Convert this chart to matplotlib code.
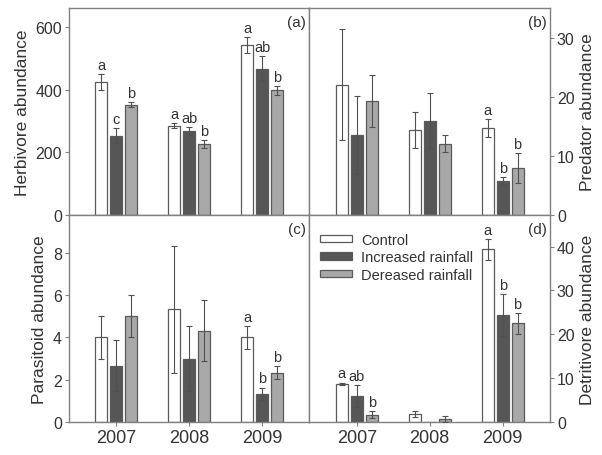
import numpy as np
import matplotlib
matplotlib.use('Agg')
import matplotlib.pyplot as plt
from matplotlib.patches import Patch

plt.rcParams['font.family'] = ['Liberation Sans', 'DejaVu Sans']

years = ['2007', '2008', '2009']
treatments = ['Control', 'Increased rainfall', 'Dereased rainfall']

# herbivore (a)
herb_ctrl = [425, 285, 543]
herb_inc = [253, 267, 466]
herb_dec = [351, 226, 397]
herb_ctrl_se = [25, 9, 25]
herb_inc_se = [23, 12, 40]
herb_dec_se = [8, 12, 15]
herb_letters = [['a', 'c', 'b'], ['a', 'ab', 'b'], ['a', 'ab', 'b']]

# predator (b)
pred_ctrl = [22.1, 14.4, 14.7]
pred_inc = [13.5, 16.0, 5.7]
pred_dec = [19.4, 12.1, 8.0]
pred_ctrl_se = [9.4, 3.1, 1.5]
pred_inc_se = [6.6, 4.7, 0.7]
pred_dec_se = [4.4, 1.5, 2.5]
pred_letters = [['', '', ''], ['', '', ''], ['a', 'b', 'b']]

# parasitoid (c)
para_ctrl = [4.0, 5.33, 4.0]
para_inc = [2.67, 3.0, 1.33]
para_dec = [5.0, 4.33, 2.33]
para_ctrl_se = [1.0, 3.0, 0.55]
para_inc_se = [1.2, 1.53, 0.3]
para_dec_se = [1.0, 1.45, 0.3]
para_letters = [['', '', ''], ['', '', ''], ['a', 'b', 'b']]

# detritivore (d)
detr_ctrl = [8.7, 1.9, 39.4]
detr_inc = [5.9, 0.0, 24.3]
detr_dec = [1.7, 0.6, 22.5]
detr_ctrl_se = [0.3, 0.7, 2.4]
detr_inc_se = [2.5, 0.0, 4.8]
detr_dec_se = [0.8, 0.7, 2.4]
detr_letters = [['a', 'ab', 'b'], ['', '', ''], ['a', 'b', 'b']]

colors = ['white', '#565656', '#a8a8a8']
edge = '#5a5a5a'
spine_c = '#808080'
text_c = '#333333'

fig, axs = plt.subplots(2, 2, figsize=(6.02, 4.56), dpi=100)
fig.subplots_adjust(left=0.1146, right=0.9136, top=0.9803, bottom=0.0724,
                    hspace=0, wspace=0)

panels = [
    (axs[0, 0], [herb_ctrl, herb_inc, herb_dec], [herb_ctrl_se, herb_inc_se, herb_dec_se],
     herb_letters, 'Herbivore abundance', (0, 660), [0, 200, 400, 600], '(a)'),
    (axs[0, 1], [pred_ctrl, pred_inc, pred_dec], [pred_ctrl_se, pred_inc_se, pred_dec_se],
     pred_letters, 'Predator abundance', (0, 35.1), [0, 10, 20, 30], '(b)'),
    (axs[1, 0], [para_ctrl, para_inc, para_dec], [para_ctrl_se, para_inc_se, para_dec_se],
     para_letters, 'Parasitoid abundance', (0, 9.8), [0, 2, 4, 6, 8], '(c)'),
    (axs[1, 1], [detr_ctrl, detr_inc, detr_dec], [detr_ctrl_se, detr_inc_se, detr_dec_se],
     detr_letters, 'Detritivore abundance', (0, 47.2), [0, 10, 20, 30, 40], '(d)'),
]

x = np.arange(1, len(years) + 1)
width = 0.165
offsets = [-0.205, 0.0, 0.205]

for i, (ax, vals, errs, letters, ylabel, ylim, yticks, tag) in enumerate(panels):
    for k in range(3):
        v = np.array(vals[k], dtype=float)
        e = np.array(errs[k], dtype=float)
        xs = x + offsets[k]
        ax.bar(xs, v, width, color=colors[k], edgecolor=edge, linewidth=0.9, zorder=2)
        ye = np.where(e > 0, v, np.nan)
        ax.errorbar(xs, ye, yerr=e, fmt='none', ecolor='#505050', elinewidth=0.8,
                    capsize=2.5, capthick=0.8, zorder=3)
        for j in range(len(years)):
            lab = letters[j][k]
            if lab:
                ax.annotate(lab, (xs[j], v[j] + e[j]), xytext=(0, 1.5),
                            textcoords='offset points', ha='center', va='bottom',
                            fontsize=10.5, color=text_c)
    ax.set_xlim(0.35, 3.65)
    ax.set_ylim(*ylim)
    ax.set_yticks(yticks)
    ax.set_xticks(x)
    for s in ax.spines.values():
        s.set_color(spine_c)
        s.set_linewidth(1.0)
    ax.tick_params(colors=spine_c, labelcolor=text_c, labelsize=11.5,
                   direction='out', length=3, width=0.8, pad=2)
    if i < 2:
        ax.set_xticklabels([])
    else:
        ax.set_xticklabels(years, fontsize=13)
    if i % 2 == 1:
        ax.yaxis.tick_right()
        ax.yaxis.set_label_position('right')
    ax.set_ylabel(ylabel, fontsize=12.5, color=text_c, labelpad=4)
    ax.text(0.985, 0.965, tag, transform=ax.transAxes, ha='right', va='top',
            fontsize=11, color=text_c)

handles = [Patch(facecolor=colors[k], edgecolor=edge, linewidth=0.9) for k in range(3)]
axs[1, 1].legend(handles, treatments, loc='upper left', frameon=False, fontsize=10.5,
                 handlelength=2.2, handleheight=0.4, labelspacing=0.25,
                 handletextpad=0.6, borderaxespad=0.0, borderpad=0.0,
                 bbox_to_anchor=(0.045, 0.915), labelcolor=text_c)

fig.savefig('out.png', dpi=100)
